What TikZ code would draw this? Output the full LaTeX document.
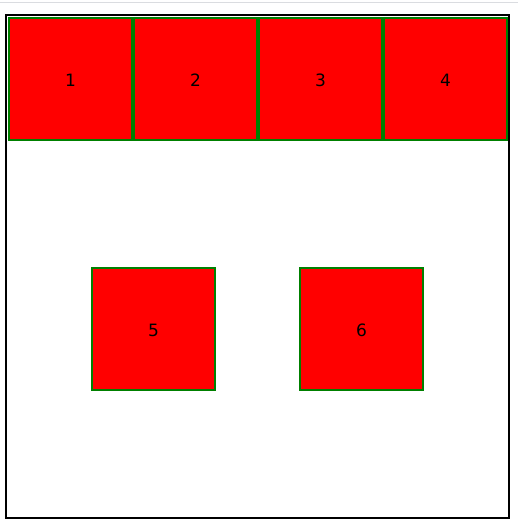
\documentclass[tikz,border=0pt]{standalone}
\usepackage{fontspec}
\setmainfont{DejaVu Sans}
\usetikzlibrary{positioning}
\definecolor{boxred}{RGB}{255,0,0}
\definecolor{boxgreen}{RGB}{0,128,0}
\definecolor{topgrey}{RGB}{218,220,224}
\tikzstyle{cell} = [rectangle, fill=boxred, draw=boxgreen, line width=2pt, minimum width=123pt, minimum height=122pt, text height=14.5pt, font=\fontsize{17}{19}\selectfont]

\begin{document}
\begin{tikzpicture}[x=1pt, y=-1pt]
   \useasboundingbox (0,0) rectangle (518,529);
   \draw[topgrey, line width=1.5pt] (0,2.5) -- (518,2.5);
   \draw[black, line width=2pt] (6,15) rectangle (508.5,517.5);

   \node (CellOne) at (70.5, 79) [cell] {1};
   \node (CellTwo) at (195.5, 79) [cell] {2};
   \node (CellThree) at (320.5, 79) [cell] {3};
   \node (CellFour) at (445.5, 79) [cell] {4};

   \node (CellFive) at (153.5, 329) [cell] {5};
   \node (CellSix) at (361.5, 329) [cell] {6};
\end{tikzpicture}
\end{document}
